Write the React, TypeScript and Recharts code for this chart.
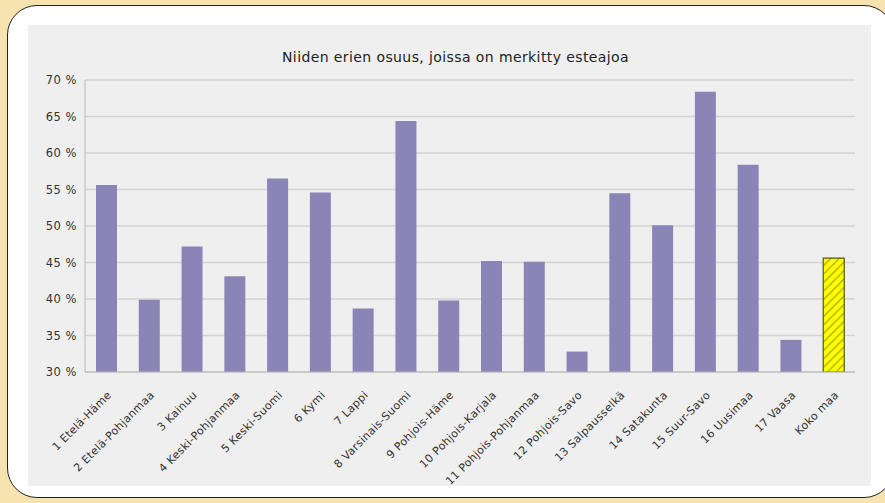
import { BarChart, Bar, XAxis, YAxis, CartesianGrid, Cell } from "recharts";

const regions = [
  "1 Etelä-Häme",
  "2 Etelä-Pohjanmaa",
  "3 Kainuu",
  "4 Keski-Pohjanmaa",
  "5 Keski-Suomi",
  "6 Kymi",
  "7 Lappi",
  "8 Varsinais-Suomi",
  "9 Pohjois-Häme",
  "10 Pohjois-Karjala",
  "11 Pohjois-Pohjanmaa",
  "12 Pohjois-Savo",
  "13 Salpausselkä",
  "14 Satakunta",
  "15 Suur-Savo",
  "16 Uusimaa",
  "17 Vaasa",
  "Koko maa",
];

// share of lots with a recorded obstacle run, percent
const shares = [
  55.6, 39.9, 47.2, 43.1, 56.5, 54.6, 38.7, 64.4, 39.8, 45.2, 45.1, 32.8, 54.5,
  50.1, 68.4, 58.4, 34.4, 45.6,
];

const yTicks = [30, 35, 40, 45, 50, 55, 60, 65, 70];

const data = regions.map((name, i) => ({ name, value: shares[i] }));

const FONT = "'DejaVu Sans', sans-serif";

const XTick = ({ x, y, payload }: any) => {
  const tx = x + 3;
  const ty = y + 13;
  return (
    <text
      x={tx}
      y={ty}
      transform={`rotate(-45 ${tx} ${ty})`}
      textAnchor="end"
      fontSize={11}
      letterSpacing={0.3}
      fontFamily={FONT}
      fill="#333"
      dy="0.35em"
    >
      {payload.value}
    </text>
  );
};

export default function App() {
  return (
    <div
      style={{
        position: "fixed",
        left: 0,
        top: 0,
        width: 885,
        height: 503,
        background: "#f6e3af",
        overflow: "hidden",
      }}
    >
      {/* white card */}
      <div
        style={{
          position: "absolute",
          left: 7,
          top: 5,
          width: 885,
          height: 491,
          background: "#fff",
          border: "1.5px solid #222",
          borderRadius: 30,
        }}
      />
      {/* gray chart panel */}
      <div
        style={{
          position: "absolute",
          left: 28,
          top: 25,
          width: 843,
          height: 461,
          background: "#efefef",
        }}
      >
        <div
          style={{
            position: "absolute",
            left: 0,
            top: 24,
            width: 855,
            textAlign: "center",
            fontFamily: FONT,
            fontSize: 14,
            letterSpacing: 0.4,
            color: "#222",
          }}
        >
          Niiden erien osuus, joissa on merkitty esteajoa
        </div>
        <BarChart
          width={843}
          height={472}
          data={data}
          margin={{ top: 55, right: 16, left: 0, bottom: 11 }}
          barCategoryGap={0}
        >
          <defs>
            <pattern
              id="hatch"
              patternUnits="userSpaceOnUse"
              width={6}
              height={6}
              patternTransform="rotate(45)"
            >
              <rect width={6} height={6} fill="#ffff00" />
              <line x1={0} y1={0} x2={0} y2={6} stroke="#a8a800" strokeWidth={2.5} />
            </pattern>
          </defs>
          <CartesianGrid vertical={false} stroke="#d3d3d3" strokeWidth={1.5} />
          <XAxis
            dataKey="name"
            interval={0}
            height={114}
            tick={<XTick />}
            tickLine={false}
            axisLine={{ stroke: "#b8b8b8" }}
          />
          <YAxis
            domain={[30, 70]}
            ticks={yTicks}
            width={57}
            tickFormatter={(v) => `${v} %`}
            tick={{ fontSize: 11.5, fontFamily: FONT, fill: "#333", letterSpacing: 0.5 }}
            tickLine={false}
            axisLine={{ stroke: "#b8b8b8" }}
            allowDataOverflow
          />
          <YAxis
            yAxisId="right"
            orientation="right"
            domain={[30, 70]}
            width={0}
            tick={false}
            tickLine={false}
            axisLine={{ stroke: "#c8c8c8" }}
          />
          <Bar dataKey="value" barSize={21} isAnimationActive={false}>
            {data.map((d, i) => (
              <Cell
                key={d.name}
                fill={i === data.length - 1 ? "url(#hatch)" : "#8b84b7"}
                stroke={i === data.length - 1 ? "#55551a" : "none"}
                strokeWidth={i === data.length - 1 ? 1.2 : 0}
              />
            ))}
          </Bar>
        </BarChart>
      </div>
    </div>
  );
}
